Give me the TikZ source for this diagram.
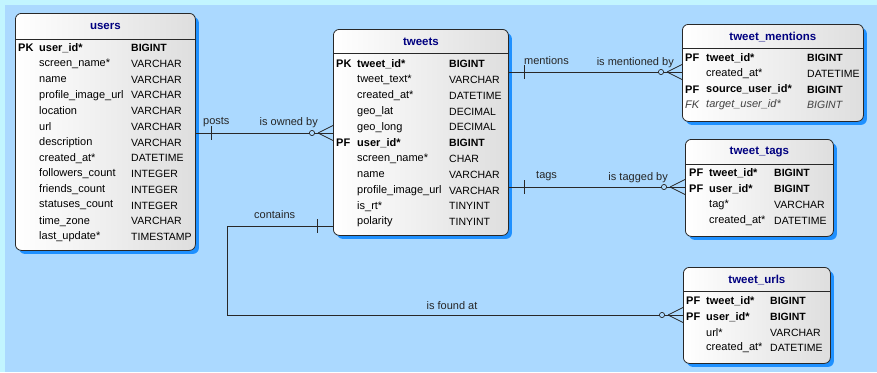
\documentclass[tikz,border=0pt]{standalone}
\usepackage{fontspec}
\setmainfont{Liberation Sans}
\usepackage{xcolor}
\usepackage{tikz}
\usetikzlibrary{calc, shadows}
\definecolor{erbg}{RGB}{171,217,255}
\definecolor{eredge}{RGB}{194,245,255}
\definecolor{ershadow}{RGB}{30,144,255}
\definecolor{ertitle}{RGB}{0,0,128}
\definecolor{erline}{RGB}{40,40,40}
\definecolor{ergray}{RGB}{222,222,222}
\newcommand{\typesize}{\fontsize{10.5}{12}\selectfont}
\tikzset{
  entity/.style={draw=erline, line width=0.8pt, rounded corners=6pt,
    left color=white, right color=ergray, anchor=north west, inner sep=0pt,
    drop shadow={shadow xshift=3.5pt, shadow yshift=-3.5pt, fill=ershadow, opacity=1}},
  tabtitle/.style={font=\fontsize{11.5}{13}\selectfont\bfseries, text=ertitle, inner sep=0pt},
  cell/.style={font=\fontsize{11}{13}\selectfont, anchor=west, inner sep=0pt, text=black},
  keycell/.style={cell, font=\fontsize{11}{13}\selectfont\bfseries},
  fkcell/.style={cell, font=\fontsize{11}{13}\selectfont\itshape, text=black!75},
  rel/.style={draw=erline, line width=0.7pt},
  rellabel/.style={font=\fontsize{11}{13}\selectfont, inner sep=0pt, text=black!85},
  pics/onetick/.style={code={\draw[rel] (0,-7) -- (0,7);}},
  pics/zeromany/.style={code={
    \draw[rel] (-15,0) -- (0,-7.5) (-15,0) -- (0,7.5);
    \draw[rel, fill=erbg] (-21,0) circle (2.6);}},
}

\begin{document}
\begin{tikzpicture}[x=1pt, y=-1pt]
\useasboundingbox (0,0) rectangle (877,372);
% background
\fill[eredge] (0,0) rectangle (877,372);
\fill[erbg] (5,5) rectangle (877,372);

% ---- tables ----
\node[entity, minimum width=180pt, minimum height=237pt] (users) at (15,13) {};
\node[entity, minimum width=175pt, minimum height=206pt] (tweets) at (333,29) {};
\node[entity, minimum width=181pt, minimum height=97pt] (mentions) at (682,24) {};
\node[entity, minimum width=148pt, minimum height=97pt] (tags) at (685,139) {};
\node[entity, minimum width=147pt, minimum height=96pt] (urls) at (683,267) {};

% titles and header rules
\node[tabtitle] (users-title) at ($(users.north)+(0,13)$) {users};
\node[tabtitle] (tweets-title) at ($(tweets.north)+(0,13)$) {tweets};
\node[tabtitle] (mentions-title) at ($(mentions.north)+(0,13)$) {tweet\_mentions};
\node[tabtitle] (tags-title) at ($(tags.north)+(0,13)$) {tweet\_tags};
\node[tabtitle] (urls-title) at ($(urls.north)+(0,13)$) {tweet\_urls};
\draw[erline, line width=0.8pt] (users.west |- 0,39) -- (users.east |- 0,39);
\draw[erline, line width=0.8pt] (tweets.west |- 0,53) -- (tweets.east |- 0,53);
\draw[erline, line width=0.8pt] (mentions.west |- 0,48) -- (mentions.east |- 0,48);
\draw[erline, line width=0.8pt] (tags.west |- 0,164) -- (tags.east |- 0,164);
\draw[erline, line width=0.8pt] (urls.west |- 0,291) -- (urls.east |- 0,291);

% ---- columns ----
\foreach \k/\f/\t/\s [count=\i from 0] in {PK/user\_id*/BIGINT/keycell,
    /screen\_name*/VARCHAR/cell, /name/VARCHAR/cell, /profile\_image\_url/VARCHAR/cell,
    /location/VARCHAR/cell, /url/VARCHAR/cell, /description/VARCHAR/cell,
    /created\_at*/DATETIME/cell, /followers\_count/INTEGER/cell, /friends\_count/INTEGER/cell,
    /statuses\_count/INTEGER/cell, /time\_zone/VARCHAR/cell, /last\_update*/TIMESTAMP/cell}{
  \node[\s] (users-k\i) at (18,48+\i*15.75) {\k};
  \node[\s] (users-f\i) at (39,48+\i*15.75) {\f};
  \node[\s] (users-t\i) at (131,48+\i*15.75) {\typesize\t};
}
\foreach \k/\f/\t/\s [count=\i from 0] in {PK/tweet\_id*/BIGINT/keycell,
    /tweet\_text*/VARCHAR/cell, /created\_at*/DATETIME/cell, /geo\_lat/DECIMAL/cell,
    /geo\_long/DECIMAL/cell, PF/user\_id*/BIGINT/keycell, /screen\_name*/CHAR/cell,
    /name/VARCHAR/cell, /profile\_image\_url/VARCHAR/cell, /is\_rt*/TINYINT/cell,
    /polarity/TINYINT/cell}{
  \node[\s] (tweets-k\i) at (336,64+\i*15.8) {\k};
  \node[\s] (tweets-f\i) at (357,64+\i*15.8) {\f};
  \node[\s] (tweets-t\i) at (449,64+\i*15.8) {\typesize\t};
}
\foreach \k/\f/\t/\s [count=\i from 0] in {PF/tweet\_id*/BIGINT/keycell,
    /created\_at*/DATETIME/cell, PF/source\_user\_id*/BIGINT/keycell,
    FK/target\_user\_id*/BIGINT/fkcell}{
  \node[\s] (mentions-k\i) at (685,58+\i*15.7) {\k};
  \node[\s] (mentions-f\i) at (706,58+\i*15.7) {\f};
  \node[\s] (mentions-t\i) at (807,58+\i*15.7) {\typesize\t};
}
\foreach \k/\f/\t/\s [count=\i from 0] in {PF/tweet\_id*/BIGINT/keycell,
    PF/user\_id*/BIGINT/keycell, /tag*/VARCHAR/cell, /created\_at*/DATETIME/cell}{
  \node[\s] (tags-k\i) at (689,173+\i*16) {\k};
  \node[\s] (tags-f\i) at (709,173+\i*16) {\f};
  \node[\s] (tags-t\i) at (774,173+\i*16) {\typesize\t};
}
\foreach \k/\f/\t/\s [count=\i from 0] in {PF/tweet\_id*/BIGINT/keycell,
    PF/user\_id*/BIGINT/keycell, /url*/VARCHAR/cell, /created\_at*/DATETIME/cell}{
  \node[\s] (urls-k\i) at (686,301+\i*15.7) {\k};
  \node[\s] (urls-f\i) at (706,301+\i*15.7) {\f};
  \node[\s] (urls-t\i) at (770,301+\i*15.7) {\typesize\t};
}

% ---- relationships ----
\coordinate (users-posts) at (users.east |- 0,133);
\coordinate (tweets-posts) at (tweets.west |- 0,133);
\coordinate (tweets-mentions) at (tweets.east |- 0,72);
\coordinate (mentions-in) at (mentions.west |- 0,72);
\coordinate (tweets-tags) at (tweets.east |- 0,187);
\coordinate (tags-in) at (tags.west |- 0,187);
\coordinate (tweets-contains) at (tweets.west |- 0,226);
\coordinate (contains-bend) at (227,226);
\coordinate (urls-in) at (urls.west |- 0,315);

\draw[rel] (users-posts) -- (tweets-posts);
\draw[rel] (tweets-mentions) -- (mentions-in);
\draw[rel] (tweets-tags) -- (tags-in);
\draw[rel] (tweets-contains) -- (contains-bend) |- (urls-in);

\pic at ($(users-posts)+(16,0)$) {onetick};
\pic at ($(tweets-mentions)+(16,0)$) {onetick};
\pic at ($(tweets-tags)+(16,0)$) {onetick};
\pic at ($(tweets-contains)+(-16,0)$) {onetick};
\pic at (tweets-posts) {zeromany};
\pic at (mentions-in) {zeromany};
\pic at (tags-in) {zeromany};
\pic at (urls-in) {zeromany};

\node[rellabel, anchor=west] (lbl-posts) at (203,122) {posts};
\node[rellabel, anchor=east] (lbl-owned) at (318,123) {is owned by};
\node[rellabel, anchor=west] (lbl-mentions) at (524,61) {mentions};
\node[rellabel, anchor=east] (lbl-mentioned) at (674,63) {is mentioned by};
\node[rellabel, anchor=west] (lbl-tags) at (536,176) {tags};
\node[rellabel, anchor=east] (lbl-tagged) at (668,178) {is tagged by};
\node[rellabel, anchor=west] (lbl-contains) at (254,215) {contains};
\node[rellabel] (lbl-found) at (452,306) {is found at};
\end{tikzpicture}
\end{document}
